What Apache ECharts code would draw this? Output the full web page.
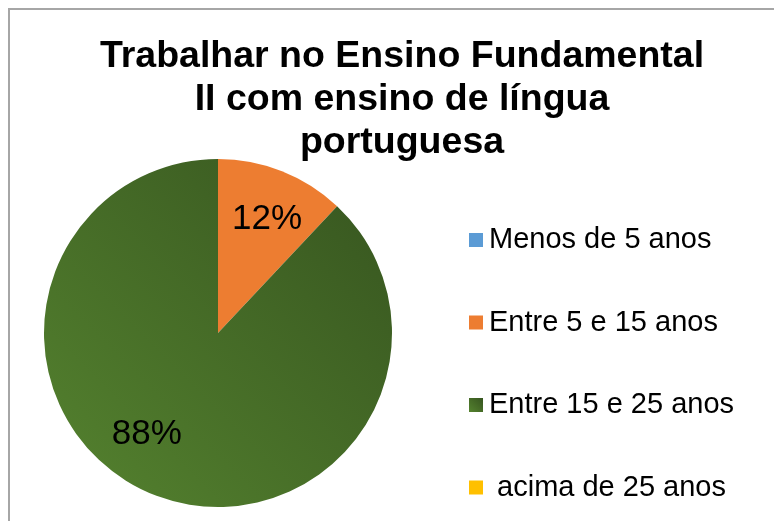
<!DOCTYPE html>
<html>
<head>
<meta charset="utf-8">
<script src="https://cdn.jsdelivr.net/npm/echarts@6/dist/echarts.min.js"></script>
<style>
  html, body { margin: 0; padding: 0; background: #ffffff; }
  #frame { position: absolute; left: 8px; top: 8px; width: 900px; height: 700px;
           border-left: 2px solid #a6a6a6; border-top: 2px solid #a6a6a6; }
  #chart { position: absolute; left: 0; top: 0; width: 774px; height: 521px; }
</style>
</head>
<body>
<div id="frame"></div>
<div id="chart"></div>
<script>
var titleText = 'Trabalhar no Ensino Fundamental\nII com ensino de língua\nportuguesa';
var categories = ['Menos de 5 anos', 'Entre 5 e 15 anos', 'Entre 15 e 25 anos', ' acima de 25 anos'];
var values = [0, 12, 88, 0];

var colors = [
  '#5B9BD5',
  '#ED7D31',
  new echarts.graphic.LinearGradient(1, 0, 0, 1, [
    { offset: 0, color: '#36541F' },
    { offset: 1, color: '#55832F' }
  ]),
  '#FFC000'
];
var labelShift = [[0, 0], [16, -30], [-38, 18], [0, 0]];

var chart = echarts.init(document.getElementById('chart'), null, { renderer: 'canvas' });
var font = '"Liberation Sans", Arial, sans-serif';
chart.setOption({
  backgroundColor: 'transparent',
  animation: false,
  title: {
    text: titleText,
    left: 397,
    top: 30,
    textAlign: 'center',
    textStyle: { fontFamily: font, fontWeight: 'bold', fontSize: 37.5, lineHeight: 43, color: '#000000' }
  },
  legend: {
    orient: 'vertical',
    left: 464,
    top: 220,
    itemWidth: 14,
    itemHeight: 14,
    itemGap: 52.5,
    icon: 'rect',
    data: categories,
    textStyle: { fontFamily: font, fontSize: 29, lineHeight: 30, color: '#000000', padding: [0, 0, 0, 1] }
  },
  series: [{
    type: 'pie',
    center: [218, 333],
    radius: 174,
    startAngle: 90,
    clockwise: true,
    silent: true,
    label: {
      show: true,
      position: 'inside',
      fontFamily: font,
      fontSize: 35,
      color: '#000000',
      formatter: function (p) { return p.value > 0 ? Math.round(p.percent) + '%' : ''; }
    },
    labelLine: { show: false },
    labelLayout: function (p) {
      var s = labelShift[p.dataIndex];
      return { dx: s[0], dy: s[1] };
    },
    itemStyle: { borderWidth: 0 },
    data: categories.map(function (c, i) {
      return { name: c, value: values[i], itemStyle: { color: colors[i] } };
    })
  }]
});
</script>
</body>
</html>
